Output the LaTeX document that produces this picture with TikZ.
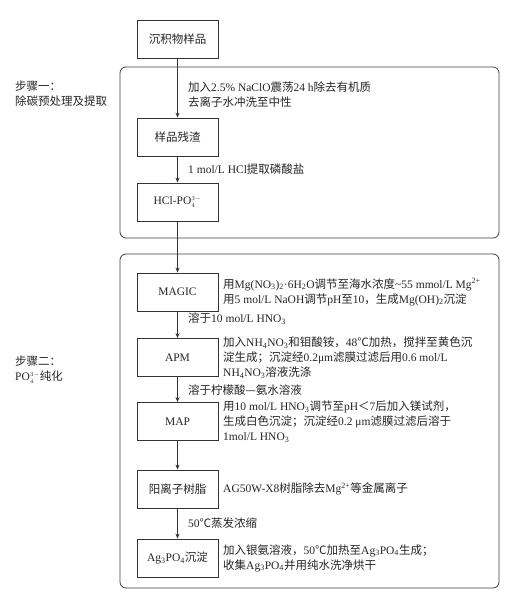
\documentclass[tikz,border=0pt]{standalone}
\usepackage{fontspec}
\setmainfont{Liberation Serif}
\newfontfamily\cjk{Noto Sans CJK SC}
\usetikzlibrary{arrows.meta}
\newcommand\zh[1]{{\cjk #1}}
\newcommand\phos{PO$^{\scriptscriptstyle 3-}_{\scriptscriptstyle 4}$}
\begin{document}
\begin{tikzpicture}[x=1pt,y=-1pt,
  every node/.style={font=\fontsize{11.5}{15}\selectfont, text=black!85},
  stepbox/.style={draw=black!80, line width=0.8pt, minimum width=81pt, minimum height=38pt, inner sep=0pt, fill=white},
  frame/.style={draw=black!75, line width=0.8pt, rounded corners=6pt},
  lab/.style={anchor=west, inner sep=0pt, align=left},
  flow/.style={draw=black!80, line width=0.8pt, -{Stealth[length=5pt,width=4pt]}}]
\useasboundingbox (0,0) rectangle (512,594);
\fill[white] (0,0) rectangle (512,594);
% frames
\draw[frame] (120,67) rectangle (499,238);
\draw[frame] (120,254) rectangle (499,588);
% boxes
\node[stepbox] (s0) at (177.5,39.5) {\zh{沉积物样品}};
\node[stepbox] (s1) at (177.5,137) {\zh{样品残渣}};
\node[stepbox] (s2) at (177.5,202) {HCl-\phos};
\node[stepbox] (s3) at (177.5,292) {MAGIC};
\node[stepbox] (s4) at (177.5,357.5) {APM};
\node[stepbox] (s5) at (177.5,421.5) {MAP};
\node[stepbox] (s6) at (177.5,489) {\zh{阳离子树脂}};
\node[stepbox] (s7) at (177.5,558) {Ag\textsubscript{3}PO\textsubscript{4}\zh{沉淀}};
% arrows
\draw[flow] (s0) -- (s1);
\draw[flow] (s1) -- (s2);
\draw[flow] (s2) -- (s3);
\draw[flow] (s3) -- (s4);
\draw[flow] (s4) -- (s5);
\draw[flow] (s5) -- (s6);
\draw[flow] (s6) -- (s7);
% step labels
\node[lab] (l1) at (15,94) {\zh{步骤一：}\\\zh{除碳预处理及提取}};
\node[lab] (l2) at (15,370) {\zh{步骤二：}\\\phos\zh{纯化}};
% arrow labels
\node[lab] (a1) at (188,95) {\zh{加入}2.5\% NaClO\zh{震荡}24 h\zh{除去有机质}\\\zh{去离子水冲洗至中性}};
\node[lab] (a2) at (188,169) {1 mol/L HCl\zh{提取磷酸盐}};
\node[lab] (a3) at (188,319) {\zh{溶于}10 mol/L HNO\textsubscript{3}};
\node[lab] (a4) at (188,390) {\zh{溶于柠檬酸—氨水溶液}};
\node[lab] (a5) at (188,523) {50\zh{℃蒸发浓缩}};
% side texts
\node[lab] (t3) at (223,292) {\zh{用}Mg(NO\textsubscript{3})\textsubscript{2}·6H\textsubscript{2}O\zh{调节至海水浓度}\textasciitilde55 mmol/L Mg\textsuperscript{2+}\\\zh{用}5 mol/L NaOH\zh{调节}pH\zh{至}10\zh{，生成}Mg(OH)\textsubscript{2}\zh{沉淀}};
\node[lab] (t4) at (223,357.5) {\zh{加入}NH\textsubscript{4}NO\textsubscript{3}\zh{和钼酸铵，}48\zh{℃加热，搅拌至黄色沉}\\\zh{淀生成；沉淀经}0.2μm\zh{滤膜过滤后用}0.6 mol/L\\NH\textsubscript{4}NO\textsubscript{3}\zh{溶液洗涤}};
\node[lab] (t5) at (223,421.5) {\zh{用}10 mol/L HNO\textsubscript{3}\zh{调节至}pH\zh{＜}7\zh{后加入镁试剂，}\\\zh{生成白色沉淀；沉淀经}0.2 μm\zh{滤膜过滤后溶于}\\1mol/L HNO\textsubscript{3}};
\node[lab] (t6) at (223,489) {AG50W-X8\zh{树脂除去}Mg\textsuperscript{2+}\zh{等金属离子}};
\node[lab] (t7) at (223,558) {\zh{加入银氨溶液，}50\zh{℃加热至}Ag\textsubscript{3}PO\textsubscript{4}\zh{生成；}\\\zh{收集}Ag\textsubscript{3}PO\textsubscript{4}\zh{并用纯水洗净烘干}};
\end{tikzpicture}
\end{document}
